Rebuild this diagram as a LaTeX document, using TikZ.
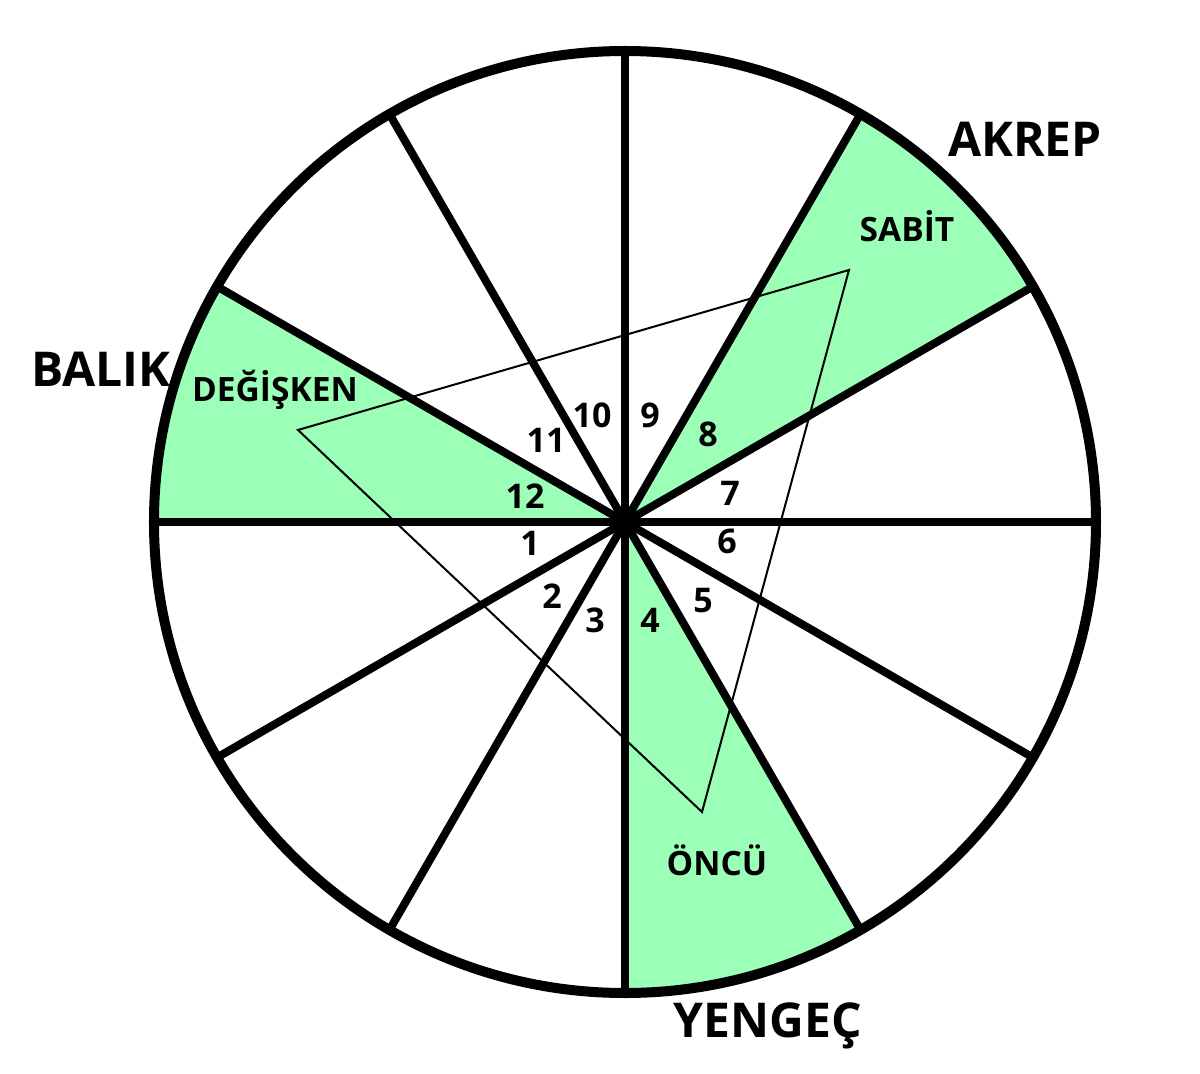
\documentclass[tikz,border=0pt]{standalone}
\usepackage{fontspec}
\setmainfont{Open Sans}
\definecolor{signgreen}{RGB}{155,255,184}
\tikzset{
  sector/.style={fill=signgreen, draw=none},
  spoke/.style={line width=8pt, draw=black},
  rim/.style={line width=10pt, draw=black},
  tri/.style={line width=2pt, draw=black, line join=miter},
  sign/.style={anchor=base, inner sep=0pt, font=\fontsize{48}{52}\selectfont\bfseries},
  quality/.style={anchor=base, inner sep=0pt, font=\fontsize{33.5}{36}\selectfont\bfseries},
  num/.style={anchor=base, inner sep=0pt, font=\fontsize{34}{37}\selectfont\bfseries}
}
\begin{document}
\begin{tikzpicture}[x=1pt,y=1pt]
\useasboundingbox (-625pt,-552pt) rectangle (575pt,522pt);
% green sectors
\fill[sector] (0,0) -- (30:471pt) arc[start angle=30, end angle=60, radius=471pt] -- cycle;
\fill[sector] (0,0) -- (150:471pt) arc[start angle=150, end angle=180, radius=471pt] -- cycle;
\fill[sector] (0,0) -- (270:471pt) arc[start angle=270, end angle=300, radius=471pt] -- cycle;
% triangle
\coordinate (t1) at (224,252);
\coordinate (t2) at (-327,92);
\coordinate (t3) at (77,-290);
\draw[tri] (t1) -- (t2) -- (t3) -- cycle;
% spokes
\coordinate (c) at (0,0);
\foreach \a in {0,30,...,330} {
  \draw[spoke] (c) -- (\a:471pt);
}
% rim
\draw[rim] (c) circle[radius=471pt];
% sign labels
\node[sign] (akrep) at (400,365) {AKREP};
\node[sign] (balik) at (-524,135) {BALIK};
\node[sign] (yengec) at (143,-515) {YENGEÇ};
% qualities
\node[quality] (sabit) at (282,280) {SABİT};
\node[quality] (degisken) at (-350,120) {DEĞİŞKEN};
\node[quality] (oncu) at (92,-353) {ÖNCÜ};
% numbers
\node[num] (n1) at (-95,-33) {1};
\node[num] (n2) at (-73,-86) {2};
\node[num] (n3) at (-30,-110) {3};
\node[num] (n4) at (25,-110) {4};
\node[num] (n5) at (78,-90) {5};
\node[num] (n6) at (102,-31) {6};
\node[num] (n7) at (105,17) {7};
\node[num] (n8) at (83,75) {8};
\node[num] (n9) at (25,94) {9};
\node[num] (n10) at (-33,94) {10};
\node[num] (n11) at (-79,70) {11};
\node[num] (n12) at (-100,14) {12};
\end{tikzpicture}
\end{document}
